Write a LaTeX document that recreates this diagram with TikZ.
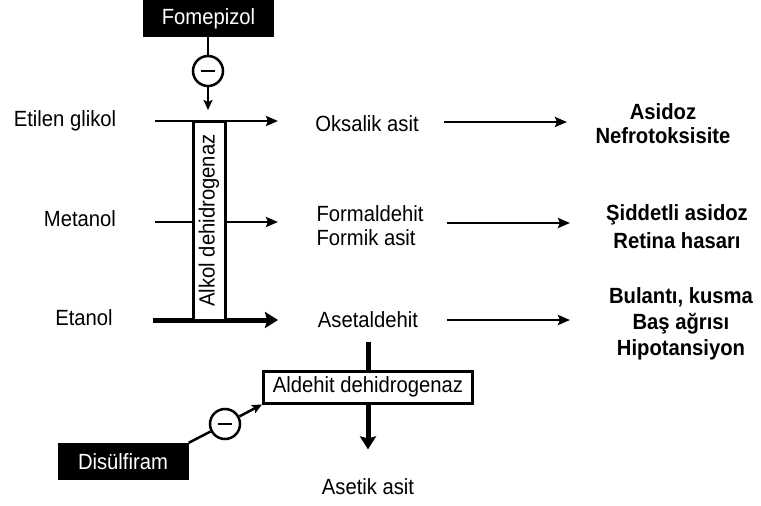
\documentclass[tikz,border=0pt]{standalone}
\usepackage{fontspec}
\setmainfont[FakeStretch=0.92]{Liberation Sans}
\usetikzlibrary{positioning, calc, arrows.meta}
\tikzset{
	arrow/.style={line width=2.5pt, -{Stealth[length=12pt, width=10pt, inset=2pt]}},
	bigarrow/.style={line width=5pt, -{Stealth[length=13pt, width=16pt, inset=2pt]}},
	bar/.style={line width=5pt},
	blackbox/.style={fill=black, text=white, inner sep=0pt, minimum width=131pt, minimum height=37pt},
	enzyme/.style={draw, line width=3pt, fill=white, inner sep=0pt},
	inhib/.style={circle, draw, line width=2.5pt, fill=white, minimum size=30pt, inner sep=0pt,
		path picture={\draw[line width=2.5pt] ([xshift=-7pt]path picture bounding box.center) -- ([xshift=7pt]path picture bounding box.center);}},
	effect/.style={font=\bfseries, align=center},
}

\begin{document}
\begin{tikzpicture}[x=1pt, y=-1pt, font=\fontsize{22}{25}\selectfont]
	\useasboundingbox (0,0) rectangle (761,506);
% Alcohols
		\node (EG) at (65,121) {Etilen glikol};
		\node (ME) at (80,219) {Metanol};
		\node (ET) at (84,318) {Etanol};
		\coordinate (EGs) at (155,121);
		\coordinate (MEs) at (155,222);
		\coordinate (ETs) at (153,320);

% Metabolites
		\node (OKS) at (367,124) {Oksalik asit};
		\node[align=left, font=\fontsize{22}{24}\selectfont] (FOR) at (370,226) {Formaldehit\\Formik asit};
		\node (ASE) at (368,320) {Asetaldehit};
		\node (ACE) at (368,487) {Asetik asit};

% Effects
		\node[effect, font=\fontsize{22}{24}\selectfont\bfseries] (EF1) at (663,124) {Asidoz\\Nefrotoksisite};
		\node[effect, font=\fontsize{22}{28}\selectfont\bfseries] (EF2) at (677,227) {Şiddetli asidoz\\Retina hasarı};
		\node[effect, font=\fontsize{22}{26}\selectfont\bfseries] (EF3) at (681,324) {Bulantı, kusma\\Baş ağrısı\\Hipotansiyon};

% Alcohol dehydrogenase step
		\draw[arrow] (EGs) -- (278,121) coordinate (EGe);
		\draw[arrow] (MEs) -- (278,222) coordinate (MEe);
		\draw[bigarrow] (ETs) -- (278,320) coordinate (ETe);
		\node[enzyme, rotate=90, minimum width=199pt, minimum height=32pt] (ADH) at (209,220.5) {Alkol dehidrogenaz};

		\draw[arrow] (OKS.east) ++(22,-2) coordinate (OKSr) -- (567,122);
		\draw[arrow] (FOR.east) ++(20,-3) coordinate (FORr) -- (570,223);
		\draw[arrow] (ASE.east) ++(25,0) coordinate (ASEr) -- (570,320);

% Aldehyde dehydrogenase step
		\node[enzyme, minimum width=209pt, minimum height=32pt] (ALDH) at (368,387) {Aldehit dehidrogenaz};
		\draw[bar, shorten <=10pt] (ASE.south) -- (ALDH.north);
		\draw[bigarrow, shorten >=26pt] (ALDH.south) -- (ACE.north);

% Inhibitors
		\node[blackbox] (FOM) at (208.5,18.5) {Fomepizol};
		\node[inhib] (FOMi) at (208,71) {};
		\draw[line width=2.5pt] (FOM.south -| FOMi) -- (FOMi);
		\draw[line width=2pt, -{Stealth[length=10pt, width=9pt, inset=2pt]}] (FOMi.south) -- (208,110);

		\node[blackbox] (DIS) at (123,461.5) {Disülfiram};
		\node[inhib] (DISi) at (225,424) {};
		\draw[line width=2.5pt] (DIS.north east) -- (DISi);
		\draw[line width=2.5pt, -{Stealth[length=10pt, width=9pt, inset=2pt]}] (DISi) -- (ALDH.south west);
\end{tikzpicture}
\end{document}
